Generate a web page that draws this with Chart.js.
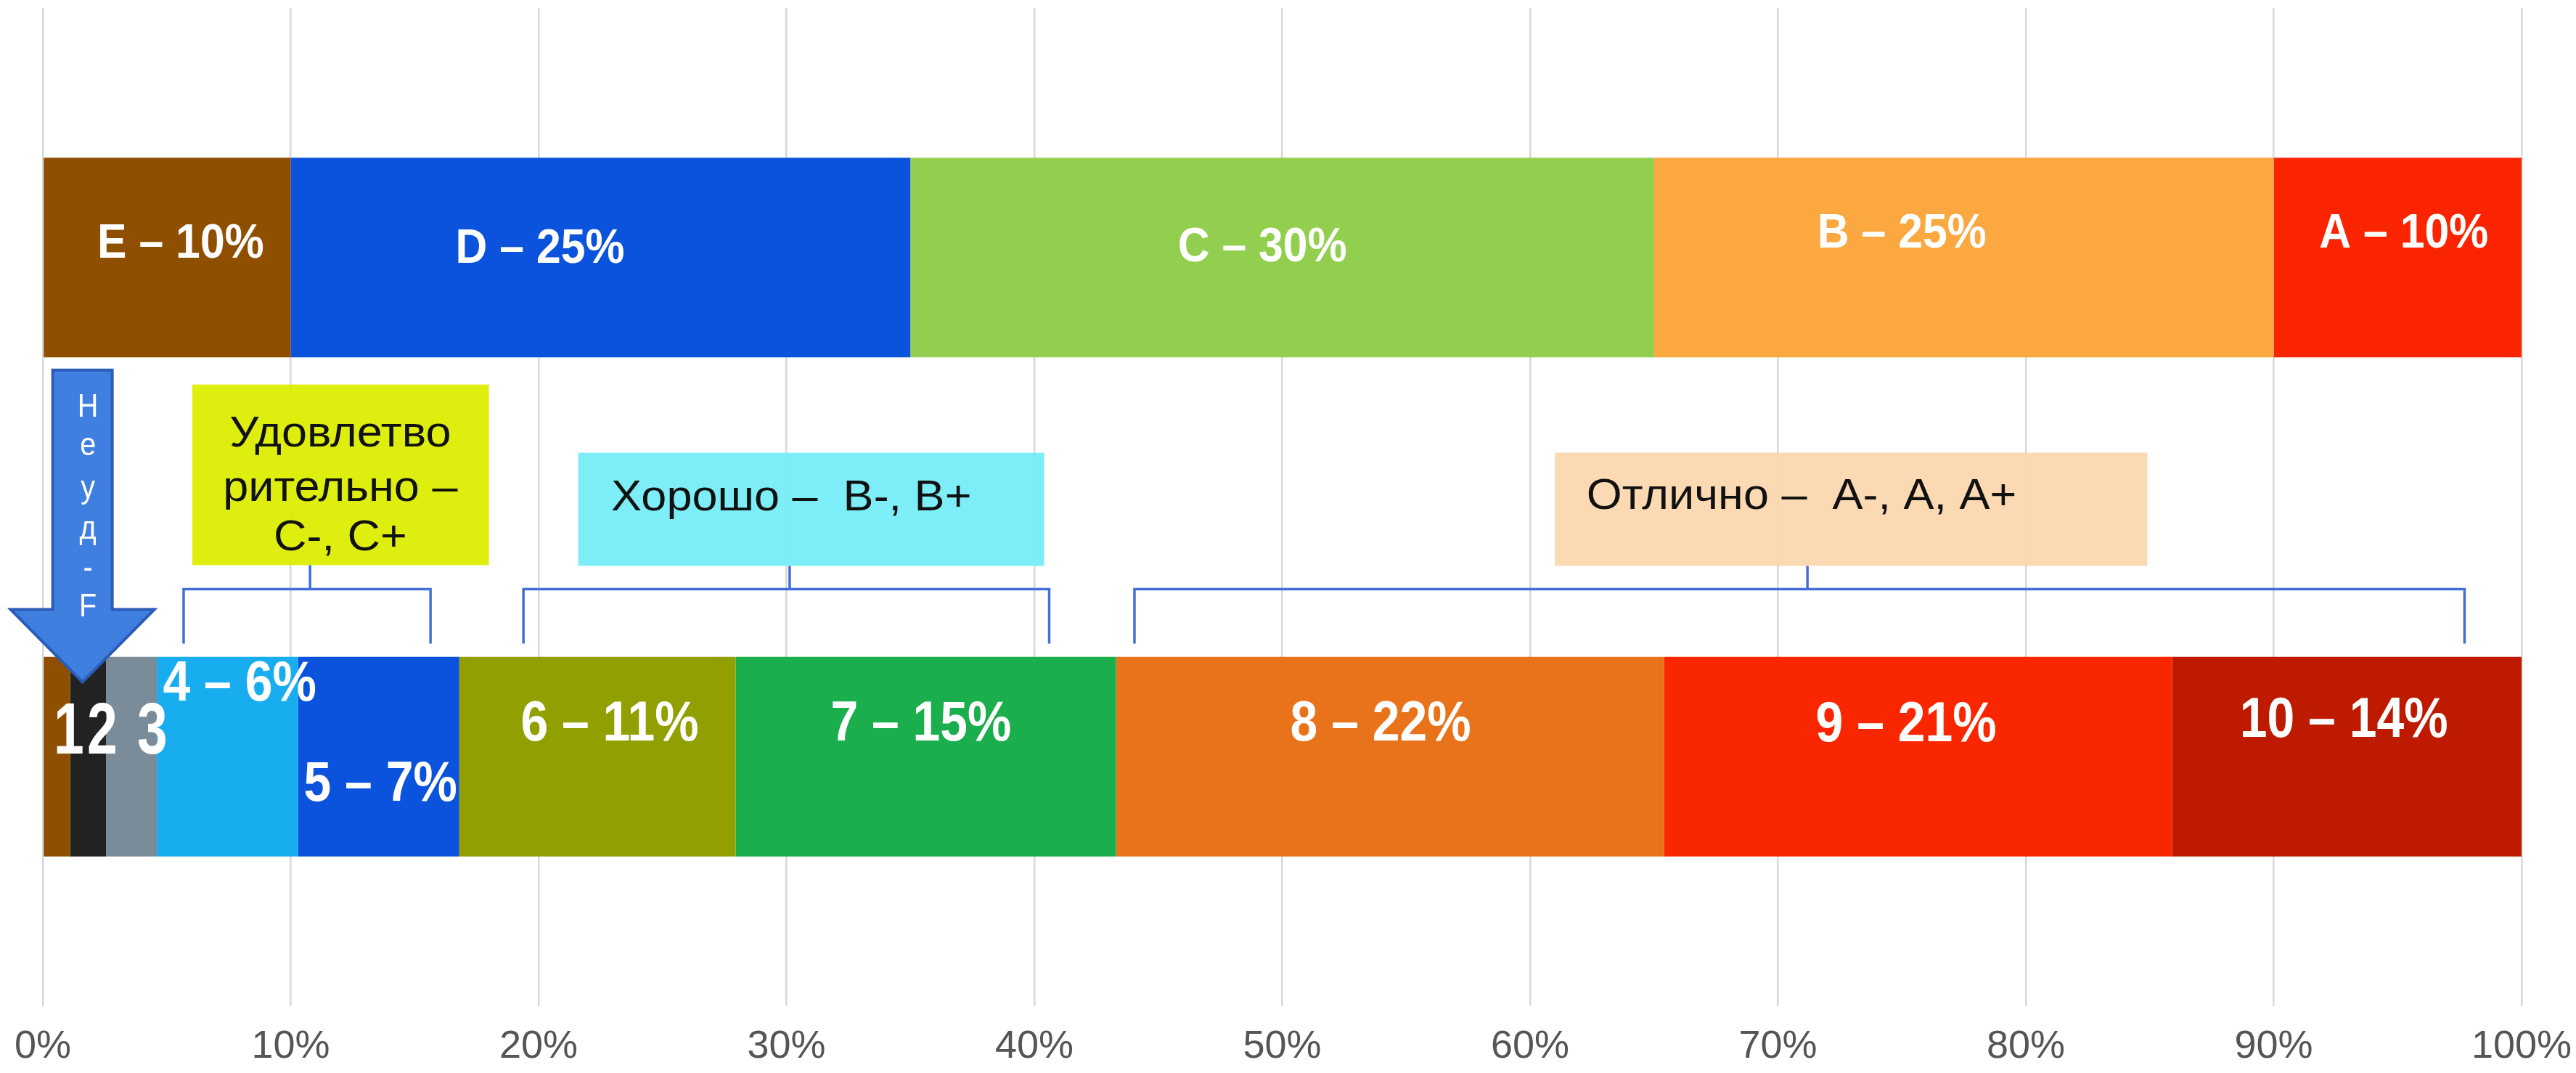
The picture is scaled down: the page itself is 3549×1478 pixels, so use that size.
<!DOCTYPE html>
<html>
<head>
<meta charset="utf-8">
<script src="https://cdn.jsdelivr.net/npm/chart.js@4.4.1/dist/chart.umd.min.js"></script>
<style>
  html, body { margin: 0; padding: 0; background: #ffffff; }
  #wrap { width: 3549px; height: 1478px; }
</style>
</head>
<body>
<div id="wrap"><canvas id="gradeChart" width="3549" height="1478"></canvas></div>
<script>
// Data
const rowNames = ['ECTS', '10 баллов'];
const ectsGrades = ['E', 'D', 'C', 'B', 'A'];
const ectsShares = [10, 25, 30, 25, 10];
const ectsLabels = ['E – 10%', 'D – 25%', 'C – 30%', 'B – 25%', 'A – 10%'];
const pointGrades = ['1', '2', '3', '4', '5', '6', '7', '8', '9', '10'];
const pointShares = [1.1, 1.45, 2.05, 5.7, 6.5, 11.15, 15.35, 22.1, 20.5, 14.1];
const pointLabels = ['1', '2', '3', '4 – 6%', '5 – 7%', '6 – 11%', '7 – 15%', '8 – 22%', '9 – 21%', '10 – 14%'];
const xTickValues = [0, 10, 20, 30, 40, 50, 60, 70, 80, 90, 100];

// Colours
const ectsColors = ['#8f4f00', '#0b52dd', '#92cf4f', '#fba841', '#fa2500'];
const pointColors = ['#8f4f00', '#222222', '#7a8c99', '#17adef', '#0b52dd',
                     '#91a000', '#1bae4c', '#e8731a', '#fa2600', '#bd1a00'];

const FONT = "'Liberation Sans', Arial, sans-serif";

// Label anchors (x in %, y in category units: 0 = top row, 1 = bottom row)
const ectsSpots = [[5.56, -0.026], [20.06, -0.016], [49.2, -0.019], [75.0, -0.046], [95.25, -0.046]];
const pointSpots = [[1.05, 0.9535], [2.4, 0.9535], [4.42, 0.9535], [7.94, 0.856], [13.62, 1.0567],
                    [22.87, 0.936], [35.43, 0.936], [53.97, 0.936], [75.17, 0.9375], [92.83, 0.9288]];

// Callout boxes and brackets
const callouts = [
  { fill: 'rgba(220,238,0,0.94)', x0: 6.03, x1: 18.0, y0: 0.2544, y1: 0.6163,
    lines: ['Удовлетво', 'рительно –', 'C-, C+'], align: 'center', tx: 12.0, ty: [0.3547, 0.4637, 0.5625],
    br: [5.68, 15.64, 10.78] },
  { fill: 'rgba(117,237,247,0.94)', x0: 21.6, x1: 40.4, y0: 0.391, y1: 0.6177,
    lines: ['Хорошо –  B-, B+'], align: 'left', tx: 22.93, ty: [0.4826],
    br: [19.39, 40.6, 30.13] },
  { fill: 'rgba(251,215,174,0.94)', x0: 61.0, x1: 84.9, y0: 0.391, y1: 0.6177,
    lines: ['Отлично –  A-, A, A+'], align: 'left', tx: 62.28, ty: [0.4797],
    br: [44.04, 97.7, 71.19] }
];
const bracketY = 0.6642, bracketEnd = 0.7733;

const arrowSpec = { cx: 1.6, half: 1.2, headHalf: 2.9, top: 0.2253, headBase: 0.705, tip: 0.8503,
  letters: ['Н', 'е', 'у', 'д', '-', 'F'], lx: 1.82, ly: [0.3009, 0.378, 0.4637, 0.545, 0.6235, 0.7006] };

const datasets = [];
ectsGrades.forEach((g, i) => datasets.push({
  label: g, data: [ectsShares[i], null], backgroundColor: ectsColors[i], stack: 's'
}));
pointGrades.forEach((g, i) => datasets.push({
  label: g, data: [null, pointShares[i]], backgroundColor: pointColors[i], stack: 's'
}));

// text with a horizontal squeeze / stretch
function drawText(ctx, text, px, py, font, sx, align) {
  ctx.save();
  ctx.translate(px, py);
  ctx.scale(sx, 1);
  ctx.font = font;
  ctx.textAlign = align || 'center';
  ctx.textBaseline = 'middle';
  ctx.fillText(text, 0, 0);
  ctx.restore();
}

const overlay = {
  id: 'overlay',
  afterDatasetsDraw(chart) {
    const { ctx, scales: { x, y } } = chart;
    ctx.save();

    // bar labels
    ctx.fillStyle = '#ffffff';
    ectsLabels.forEach((t, i) => {
      drawText(ctx, t, x.getPixelForValue(ectsSpots[i][0]), y.getPixelForValue(ectsSpots[i][1]),
               'bold 66px ' + FONT, 0.92);
    });
    pointLabels.forEach((t, i) => {
      const f = i < 3 ? 'bold 100px ' + FONT : 'bold 78px ' + FONT;
      drawText(ctx, t, x.getPixelForValue(pointSpots[i][0]), y.getPixelForValue(pointSpots[i][1]),
               f, i < 3 ? 0.75 : 0.87);
    });

    // callout boxes
    callouts.forEach(c => {
      const l = x.getPixelForValue(c.x0), r = x.getPixelForValue(c.x1);
      const t = y.getPixelForValue(c.y0), b = y.getPixelForValue(c.y1);
      ctx.fillStyle = c.fill;
      ctx.fillRect(l, t, r - l, b - t);
      ctx.fillStyle = '#111111';
      c.lines.forEach((line, k) => {
        drawText(ctx, line, x.getPixelForValue(c.tx), y.getPixelForValue(c.ty[k]),
                 '60px ' + FONT, 1.05, c.align);
      });

      // bracket
      const bl = x.getPixelForValue(c.br[0]), brr = x.getPixelForValue(c.br[1]);
      const stem = x.getPixelForValue(c.br[2]);
      const by = y.getPixelForValue(bracketY), be = y.getPixelForValue(bracketEnd);
      ctx.strokeStyle = '#4270d6';
      ctx.lineWidth = 3.5;
      ctx.beginPath();
      ctx.moveTo(stem, b); ctx.lineTo(stem, by);
      ctx.moveTo(bl, be); ctx.lineTo(bl, by); ctx.lineTo(brr, by); ctx.lineTo(brr, be);
      ctx.stroke();
    });

    // arrow "Неуд - F"
    const a = arrowSpec;
    const sl = x.getPixelForValue(a.cx - a.half), sr = x.getPixelForValue(a.cx + a.half);
    const hl = x.getPixelForValue(a.cx - a.headHalf), hr = x.getPixelForValue(a.cx + a.headHalf);
    const cx = x.getPixelForValue(a.cx);
    const top = y.getPixelForValue(a.top), hb = y.getPixelForValue(a.headBase), tip = y.getPixelForValue(a.tip);
    ctx.beginPath();
    ctx.moveTo(sl, top); ctx.lineTo(sr, top); ctx.lineTo(sr, hb); ctx.lineTo(hr, hb);
    ctx.lineTo(cx, tip); ctx.lineTo(hl, hb); ctx.lineTo(sl, hb); ctx.closePath();
    ctx.fillStyle = '#3f7fe0';
    ctx.fill();
    ctx.strokeStyle = '#2b5cb8';
    ctx.lineWidth = 4;
    ctx.stroke();
    ctx.fillStyle = '#ffffff';
    a.letters.forEach((ch, k) => {
      drawText(ctx, ch, x.getPixelForValue(a.lx), y.getPixelForValue(a.ly[k]), '44px ' + FONT, 0.9);
    });

    ctx.restore();
  }
};

new Chart(document.getElementById('gradeChart'), {
  type: 'bar',
  data: { labels: rowNames, datasets: datasets },
  options: {
    indexAxis: 'y',
    responsive: false,
    animation: false,
    devicePixelRatio: 1,
    layout: { padding: { left: 59, right: 75, top: 11, bottom: 0 } },
    datasets: { bar: { barPercentage: 0.4, categoryPercentage: 1.0, borderWidth: 0 } },
    scales: {
      x: {
        type: 'linear', stacked: true, min: 0, max: 100,
        afterBuildTicks: scale => { scale.ticks = xTickValues.map(v => ({ value: v })); },
        afterFit: scale => { scale.paddingLeft = 0; scale.paddingRight = 0; scale.height = 92; },
        ticks: { callback: v => v + '%', color: '#555555', padding: 24,
                 font: { family: FONT, size: 54 } },
        grid: { color: '#d8d8d8', lineWidth: 2.5, drawTicks: false },
        border: { display: false }
      },
      y: { type: 'category', stacked: true, display: false }
    },
    plugins: { legend: { display: false }, tooltip: { enabled: false } }
  },
  plugins: [overlay]
});
</script>
</body>
</html>
